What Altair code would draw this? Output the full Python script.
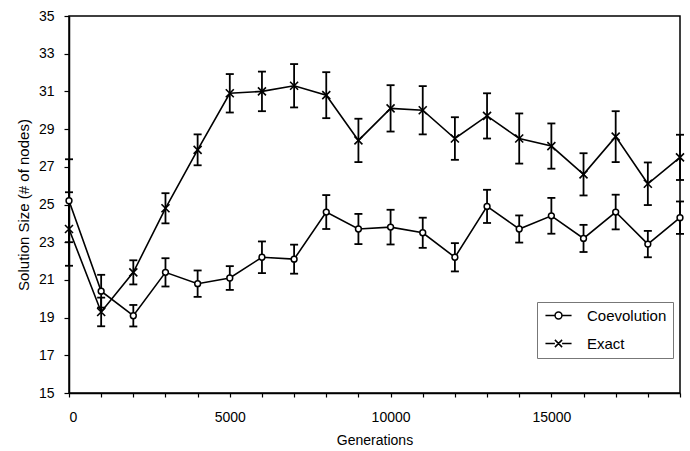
import altair as alt
import pandas as pd

# Generations sampled every 1000
generations = list(range(0, 19001, 1000))

# Mean solution size and half-width of the error bar for each method
coev_mean = [25.2, 20.4, 19.1, 21.4, 20.8, 21.1, 22.2, 22.1, 24.6, 23.7,
             23.8, 23.5, 22.2, 24.9, 23.7, 24.4, 23.2, 24.6, 22.9, 24.3]
coev_err = [2.2, 0.87, 0.57, 0.75, 0.7, 0.63, 0.84, 0.77, 0.9, 0.8,
            0.92, 0.8, 0.75, 0.88, 0.72, 0.95, 0.72, 0.92, 0.7, 0.86]
exact_mean = [23.7, 19.3, 21.4, 24.8, 27.9, 30.9, 31.0, 31.3, 30.8, 28.4,
              30.1, 30.0, 28.5, 29.7, 28.5, 28.1, 26.6, 28.6, 26.1, 27.5]
exact_err = [1.95, 0.76, 0.64, 0.8, 0.82, 1.02, 1.05, 1.15, 1.22, 1.15,
             1.23, 1.28, 1.13, 1.2, 1.33, 1.2, 1.12, 1.35, 1.13, 1.2]

series_names = ["Coevolution", "Exact"]

rows = []
for name, means, errs in [("Coevolution", coev_mean, coev_err),
                          ("Exact", exact_mean, exact_err)]:
    for g, m, e in zip(generations, means, errs):
        rows.append({"gen": g, "series": name, "mean": m,
                     "lo": round(m - e, 3), "hi": round(m + e, 3)})
df = pd.DataFrame(rows)

FONT = "Liberation Sans"
X_SHAPE = "M-1,-1L1,1M-1,1L1,-1"
# Legend glyphs: a short line with the marker in its middle
LEG_CIRCLE = ("M-4.35,0L-1.15,0M1.15,0L4.35,0"
              "M-1.15,0A1.15,1.15,0,1,1,1.15,0A1.15,1.15,0,1,1,-1.15,0")
LEG_X = ("M-4.35,0L-1.2,0M1.2,0L4.35,0"
         "M-1.2,-1.2L1.2,1.2M-1.2,1.2L1.2,-1.2")

x_axis = alt.Axis(
    values=generations,
    labelExpr="datum.value % 5000 == 0 ? datum.label : ''",
    format="d",
    labelOverlap=False,
    tickSize=4,
    labelPadding=13,
    titlePadding=9,
    labelFontSize=14,
    titleFontSize=14,
)
x_scale = alt.Scale(domain=[0, 19000], nice=False)
y_scale = alt.Scale(domain=[15, 35], nice=False, zero=False)
y_axis = alt.Axis(
    values=list(range(15, 36, 2)),
    labelOverlap=False,
    tickSize=5,
    labelPadding=10,
    titlePadding=7,
    labelFontSize=14,
    titleFontSize=15,
)
Y_TITLE = "Solution Size (# of nodes)"


def xq():
    return alt.X("gen:Q", title="Generations", scale=x_scale, axis=x_axis)


def yq(field):
    return alt.Y(f"{field}:Q", title=Y_TITLE, scale=y_scale, axis=y_axis)


base = alt.Chart(df)

err_rules = base.mark_rule(color="black", strokeWidth=1.8).encode(
    x=xq(), y=yq("lo"), y2="hi:Q"
)
cap_lo = base.mark_tick(color="black", orient="horizontal", size=8,
                        thickness=1.8, opacity=1).encode(x=xq(), y=yq("lo"))
cap_hi = base.mark_tick(color="black", orient="horizontal", size=8,
                        thickness=1.8, opacity=1).encode(x=xq(), y=yq("hi"))

lines = base.mark_line(color="black", strokeWidth=1.6).encode(
    x=xq(), y=yq("mean"), detail="series:N"
)

coev_pts = base.transform_filter(alt.datum.series == "Coevolution").mark_point(
    shape="circle", filled=True, fill="white", stroke="black",
    strokeWidth=1.5, size=34, opacity=1
).encode(x=xq(), y=yq("mean"))

exact_pts = base.transform_filter(alt.datum.series == "Exact").mark_point(
    shape=X_SHAPE, filled=False, stroke="black", strokeWidth=1.6,
    size=64, opacity=1
).encode(x=xq(), y=yq("mean"))

# Legend carrier: draws nothing, supplies the shape legend
legend_layer = base.transform_filter("false").mark_point(
    filled=False, color="black", strokeWidth=1.5, opacity=1
).encode(
    x=xq(),
    y=yq("mean"),
    shape=alt.Shape(
        "series:N",
        scale=alt.Scale(domain=series_names, range=[LEG_CIRCLE, LEG_X]),
        legend=alt.Legend(
            title=None,
            orient="none",
            legendX=468,
            legendY=286,
            padding=6,
            symbolSize=36,
            symbolOffset=8,
            labelOffset=21,
            rowPadding=12,
            symbolStrokeWidth=1.5,
            symbolStrokeColor="black",
            labelFontSize=15,
            labelFont=FONT,
            labelColor="black",
            strokeColor="#777777",
            fillColor="white",
        ),
    ),
)

chart = alt.layer(
    err_rules, cap_lo, cap_hi, lines, coev_pts, exact_pts, legend_layer
).properties(
    width=611,
    height=377,
    padding={"left": 69, "top": 16, "right": 10, "bottom": 58},
    autosize=alt.AutoSizeParams(type="none"),
).configure_view(
    stroke="black", strokeWidth=1.5
).configure_axis(
    grid=False,
    domainColor="black",
    domainWidth=1.5,
    tickColor="black",
    tickWidth=1.2,
    labelColor="black",
    titleColor="black",
    labelFont=FONT,
    titleFont=FONT,
    titleFontWeight="normal",
)

chart.save("out.html", embed_options={"renderer": "svg", "actions": False})
